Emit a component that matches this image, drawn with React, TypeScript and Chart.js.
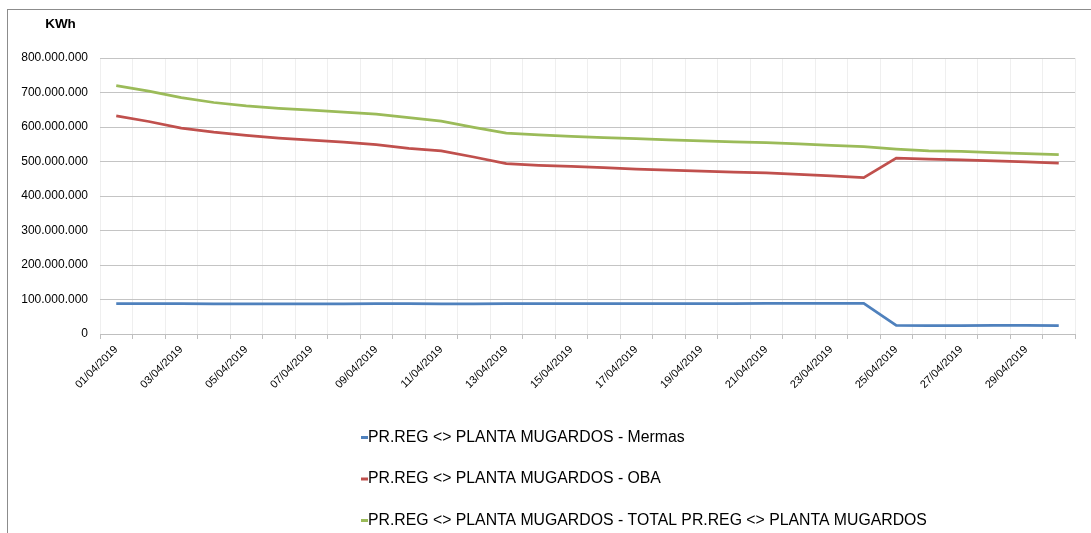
import React, { useEffect, useRef } from 'react';
import { Chart, registerables } from 'chart.js';

Chart.register(...registerables);

const categories = [
  '01/04/2019', '02/04/2019', '03/04/2019', '04/04/2019', '05/04/2019',
  '06/04/2019', '07/04/2019', '08/04/2019', '09/04/2019', '10/04/2019',
  '11/04/2019', '12/04/2019', '13/04/2019', '14/04/2019', '15/04/2019',
  '16/04/2019', '17/04/2019', '18/04/2019', '19/04/2019', '20/04/2019',
  '21/04/2019', '22/04/2019', '23/04/2019', '24/04/2019', '25/04/2019',
  '26/04/2019', '27/04/2019', '28/04/2019', '29/04/2019', '30/04/2019',
];

const shownTickLabels = [
  '01/04/2019', '03/04/2019', '05/04/2019', '07/04/2019', '09/04/2019',
  '11/04/2019', '13/04/2019', '15/04/2019', '17/04/2019', '19/04/2019',
  '21/04/2019', '23/04/2019', '25/04/2019', '27/04/2019', '29/04/2019',
];

const mermasLabel = 'PR.REG <> PLANTA MUGARDOS - Mermas';
const obaLabel = 'PR.REG <> PLANTA MUGARDOS - OBA';
const totalLabel = 'PR.REG <> PLANTA MUGARDOS - TOTAL PR.REG <> PLANTA MUGARDOS';
const axisTitle = 'KWh';

const mermasValues = [
  88000000, 88000000, 88000000, 87000000, 87000000, 87000000, 87000000, 87000000, 88000000, 88000000,
  87000000, 87000000, 88000000, 88000000, 88000000, 88000000, 88000000, 88000000, 88000000, 88000000,
  89000000, 89000000, 89000000, 89000000, 25000000, 24000000, 24000000, 25000000, 25000000, 24000000,
];

const obaValues = [
  632000000, 616000000, 597000000, 585000000, 576000000, 568000000, 562000000, 556000000, 549000000, 538000000,
  531000000, 513000000, 494000000, 489000000, 486000000, 482000000, 478000000, 475000000, 472000000, 469000000,
  467000000, 463000000, 458000000, 453000000, 510000000, 507000000, 505000000, 502000000, 499000000, 495000000,
];

const totalValues = [
  720000000, 704000000, 685000000, 671000000, 661000000, 654000000, 649000000, 643000000, 637000000, 627000000,
  617000000, 599000000, 582000000, 577000000, 573000000, 569000000, 566000000, 563000000, 560000000, 557000000,
  555000000, 551000000, 547000000, 543000000, 536000000, 531000000, 529000000, 526000000, 523000000, 520000000,
];

const yMin = 0;
const yMax = 800000000;
const yStep = 100000000;

const FONT = '"Liberation Sans", Arial, sans-serif';

function formatThousands(v: number): string {
  return String(Math.round(v)).replace(/\B(?=(\d{3})+(?!\d))/g, '.');
}

const customText = {
  id: 'customText',
  afterDraw(chart: any) {
    const { ctx, chartArea } = chart;
    ctx.save();
    ctx.fillStyle = '#000';
    ctx.font = `bold 13.5px ${FONT}`;
    ctx.textAlign = 'center';
    ctx.textBaseline = 'middle';
    ctx.fillText(axisTitle, chartArea.left - 39.5, chartArea.top - 33.5);

    ctx.font = `15.8px ${FONT}`;
    ctx.textAlign = 'left';
    const x0 = chartArea.left + 261;
    chart.data.datasets.forEach((ds: any, i: number) => {
      const y = chartArea.bottom + 103.5 + i * 41.5;
      ctx.strokeStyle = ds.borderColor;
      ctx.lineWidth = 3;
      ctx.beginPath();
      ctx.moveTo(x0, y);
      ctx.lineTo(x0 + 7, y);
      ctx.stroke();
      ctx.fillText(ds.label, x0 + 7, y);
    });
    ctx.restore();
  },
};

export default function App() {
  const canvasRef = useRef<HTMLCanvasElement | null>(null);

  useEffect(() => {
    if (!canvasRef.current) return;
    const chart = new Chart(canvasRef.current, {
      type: 'line',
      data: {
        labels: categories,
        datasets: [
          { label: mermasLabel, data: mermasValues, borderColor: '#4F81BD', backgroundColor: '#4F81BD', borderWidth: 2.75, pointRadius: 0, tension: 0 },
          { label: obaLabel, data: obaValues, borderColor: '#C0504D', backgroundColor: '#C0504D', borderWidth: 2.75, pointRadius: 0, tension: 0 },
          { label: totalLabel, data: totalValues, borderColor: '#9BBB59', backgroundColor: '#9BBB59', borderWidth: 2.75, pointRadius: 0, tension: 0 },
        ],
      },
      options: {
        animation: false,
        responsive: false,
        maintainAspectRatio: false,
        devicePixelRatio: 1,
        layout: { padding: { left: 13, right: 16, top: 48, bottom: 129 } },
        plugins: {
          legend: { display: false },
          tooltip: { enabled: false },
          title: { display: false },
        },
        scales: {
          x: {
            offset: true,
            grid: { offset: true, color: '#EFEFEF', tickColor: '#BFBFBF', tickLength: 5, drawTicks: true },
            border: { color: '#BFBFBF' },
            ticks: {
              autoSkip: false,
              maxRotation: 45,
              minRotation: 45,
              padding: 4,
              color: '#000',
              font: { family: FONT, size: 11 },
              callback: (_v: any, i: number) => (shownTickLabels.includes(categories[i]) ? categories[i] : ''),
            },
            afterFit: (scale: any) => {
              scale.height = 70;
              scale.paddingLeft = 0;
              scale.paddingRight = 0;
            },
          },
          y: {
            min: yMin,
            max: yMax,
            grid: { color: '#C4C4C4', drawTicks: false },
            border: { display: false },
            ticks: {
              stepSize: yStep,
              padding: 12,
              color: '#000',
              font: { family: FONT, size: 12 },
              callback: (v: any) => formatThousands(Number(v)),
            },
            afterFit: (scale: any) => {
              scale.width = 79;
            },
          },
        },
      },
      plugins: [customText],
    });
    return () => chart.destroy();
  }, []);

  return (
    <div
      style={{
        position: 'absolute',
        left: 7,
        top: 9,
        width: 1083,
        height: 523,
        borderLeft: '1px solid #8C8C8C',
        borderTop: '1px solid #8C8C8C',
        background: '#fff',
        overflow: 'hidden',
      }}
    >
      <canvas ref={canvasRef} width={1083} height={523} style={{ display: 'block', width: 1083, height: 523 }} />
    </div>
  );
}
